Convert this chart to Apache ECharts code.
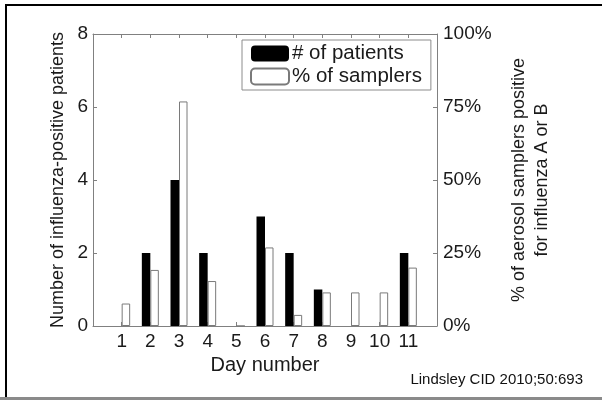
<!DOCTYPE html>
<html>
<head>
<meta charset="utf-8">
<script src="https://cdn.jsdelivr.net/npm/echarts@6/dist/echarts.min.js"></script>
<style>
html,body{margin:0;padding:0;background:#fff;}
#c{width:602px;height:402px;}
</style>
</head>
<body>
<div id="c"></div>
<script>
const days = [1,2,3,4,5,6,7,8,9,10,11];
const patients = [0,2,4,2,0,3,2,1,0,0,2];
const samplerPct = [7.7,19.2,76.9,15.4,0,26.9,3.8,11.5,11.5,11.5,20];
const leftTicks = [0,2,4,6,8];
const rightTicks = [0,25,50,75,100];

const FONT = 'Liberation Sans';
const TXT = '#1a1a1a';
const AX = '#808080';

const chart = echarts.init(document.getElementById('c'), null, {renderer:'canvas'});
chart.setOption({
  animation:false,
  backgroundColor:'#fff',
  textStyle:{fontFamily:FONT},
  grid:{left:93,right:165,top:34,bottom:76,containLabel:false},
  legend:{
    orient:'vertical',
    left:242, top:40,
    itemWidth:38, itemHeight:16, itemGap:2,
    padding:[3,9,3,8],
    borderColor:'#8c8c8c', borderWidth:1,
    textStyle:{fontFamily:FONT,fontSize:20.5,color:TXT,padding:[0,0,0,-2]},
    data:['# of patients','% of samplers']
  },
  xAxis:[{
    type:'value', min:0, max:12, interval:1, position:'bottom',
    name:'Day number', nameLocation:'middle', nameGap:21,
    nameTextStyle:{fontFamily:FONT,fontSize:20,color:TXT},
    axisLine:{show:true,onZero:false,lineStyle:{color:AX,width:1}},
    axisTick:{show:true,inside:true,length:4,lineStyle:{color:AX}},
    axisLabel:{fontFamily:FONT,fontSize:19,color:TXT,margin:6,
      formatter:v => days.indexOf(v) >= 0 ? String(v) : ''},
    splitLine:{show:false}
  },{
    type:'value', min:0, max:12, interval:1, position:'top',
    axisLine:{show:true,onZero:false,lineStyle:{color:AX,width:1}},
    axisTick:{show:true,inside:true,length:4,lineStyle:{color:AX}},
    axisLabel:{show:false},
    splitLine:{show:false}
  }],
  yAxis:[{
    type:'value', min:0, max:8, interval:2, position:'left',
    name:'Number of influenza-positive patients', nameLocation:'middle', nameGap:17, nameRotate:90,
    nameTextStyle:{fontFamily:FONT,fontSize:18,color:TXT},
    axisLine:{show:true,onZero:false,lineStyle:{color:AX,width:1}},
    axisTick:{show:true,inside:true,length:4,lineStyle:{color:AX}},
    axisLabel:{fontFamily:FONT,fontSize:19,color:TXT,margin:5,
      formatter:v => leftTicks.indexOf(v) >= 0 ? String(v) : ''},
    splitLine:{show:false}
  },{
    type:'value', min:0, max:100, interval:25, position:'right',
    name:'% of aerosol samplers positive\nfor influenza A or B', nameLocation:'middle', nameGap:71, nameRotate:90,
    nameTextStyle:{fontFamily:FONT,fontSize:18,color:TXT,lineHeight:23,align:'center'},
    axisLine:{show:true,onZero:false,lineStyle:{color:AX,width:1}},
    axisTick:{show:true,inside:true,length:4,lineStyle:{color:AX}},
    axisLabel:{fontFamily:FONT,fontSize:19,color:TXT,margin:6,
      formatter:v => rightTicks.indexOf(v) >= 0 ? v + '%' : ''},
    splitLine:{show:false}
  }],
  series:[{
    name:'# of patients', type:'bar', xAxisIndex:0, yAxisIndex:0,
    barWidth:8.5, barGap:'0%',
    itemStyle:{color:'#000',borderColor:'#000',borderWidth:0},
    data: days.map((d,i) => [d, patients[i]])
  },{
    name:'% of samplers', type:'bar', xAxisIndex:0, yAxisIndex:1,
    barWidth:8.5, barGap:'0%',
    itemStyle:{color:'#fff',borderColor:'#7a7a7a',borderWidth:1},
    data: days.map((d,i) => [d, samplerPct[i]])
  }],
  graphic:[
    {type:'line', shape:{x1:6,y1:5,x2:602,y2:5}, style:{stroke:'#000',lineWidth:2}, silent:true},
    {type:'line', shape:{x1:6,y1:4,x2:6,y2:398}, style:{stroke:'#000',lineWidth:2}, silent:true},
    {type:'line', shape:{x1:0,y1:398.5,x2:602,y2:398.5}, style:{stroke:'#8a8a8a',lineWidth:3}, silent:true},
    {type:'text', right:19, top:372, style:{text:'Lindsley CID 2010;50:693', font:'15px "Liberation Sans"', fill:'#111'}}
  ]
});
</script>
</body>
</html>
